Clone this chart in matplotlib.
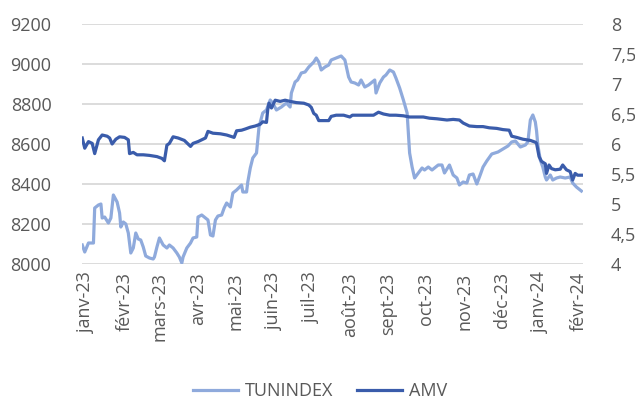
import matplotlib
matplotlib.use("Agg")
import matplotlib.pyplot as plt
import pandas as pd

# ---- data (days counted from 2023-01-01) ----
tun_days = [-3, -1, 2, 6, 7, 10, 12, 13, 15, 18, 20, 22, 25, 27, 28, 30, 32, 34, 36, 38,
            40, 42, 44, 46, 48, 51, 54, 55, 57, 59, 62, 65, 67, 70, 73, 75, 77, 78, 81, 84,
            86, 89, 90, 93, 96, 98, 100, 102, 104, 106, 109, 111, 113, 116, 118, 121, 125, 126, 129, 130,
            132, 134, 137, 138, 139, 142, 145, 148, 150, 153, 157, 161, 164, 165, 168, 170, 173, 176, 179, 183,
            185, 187, 189, 192, 195, 197, 201, 205, 208, 211, 213, 216, 219, 221, 224, 227, 229, 232, 233, 236,
            239, 241, 244, 247, 249, 252, 255, 258, 259, 260, 262, 264, 267, 270, 272, 275, 278, 280, 283, 286,
            288, 292, 295, 298, 300, 303, 306, 308, 311, 314, 317, 319, 322, 326, 331, 335, 339, 342, 345, 349,
            353, 355, 357, 359, 361, 362, 363, 365, 367, 369, 370, 373, 375, 378, 381, 385, 389, 391, 394, 397, 398]
tun_vals = [8095, 8060, 8105, 8105, 8280, 8295, 8300, 8230, 8235, 8205, 8230, 8345, 8310, 8255, 8185, 8210, 8200, 8155, 8055, 8080,
            8155, 8125, 8120, 8085, 8040, 8030, 8025, 8035, 8085, 8130, 8095, 8080, 8095, 8080, 8055, 8035, 8005, 8035, 8080, 8105,
            8130, 8135, 8235, 8245, 8230, 8220, 8145, 8140, 8220, 8240, 8245, 8280, 8305, 8285, 8355, 8370, 8395, 8360, 8360, 8410,
            8480, 8530, 8555, 8620, 8685, 8755, 8770, 8820, 8805, 8770, 8785, 8805, 8785, 8855, 8910, 8920, 8955, 8960, 8985, 9010,
            9030, 9010, 8970, 8985, 8995, 9020, 9030, 9040, 9020, 8935, 8910, 8905, 8895, 8920, 8885, 8895, 8905, 8920, 8855, 8905,
            8935, 8945, 8970, 8960, 8930, 8880, 8820, 8755, 8655, 8555, 8485, 8430, 8455, 8480, 8470, 8485, 8470, 8480, 8495, 8495,
            8455, 8495, 8445, 8430, 8395, 8410, 8405, 8445, 8450, 8400, 8450, 8485, 8515, 8550, 8560, 8575, 8590, 8610, 8615, 8585,
            8595, 8610, 8720, 8745, 8710, 8665, 8595, 8520, 8485, 8435, 8420, 8445, 8420, 8430, 8435, 8430, 8435, 8405, 8385, 8370, 8365]

amv_days = [-3, -1, 2, 5, 7, 10, 13, 17, 19, 21, 24, 27, 31, 34, 35, 38, 41, 46, 51, 57,
            61, 63, 65, 67, 70, 74, 79, 84, 86, 90, 93, 96, 98, 102, 108, 113, 119, 121, 125, 128,
            132, 136, 140, 142, 145, 146, 147, 149, 152, 156, 160, 164, 169, 175, 179, 181, 183, 185, 187, 191,
            195, 197, 201, 207, 212, 214, 220, 225, 231, 235, 239, 244, 249, 255, 260, 266, 271, 276, 282, 290,
            295, 300, 303, 308, 314, 319, 324, 330, 335, 340, 342, 346, 351, 357, 361, 362, 364, 366, 369, 370,
            372, 374, 377, 381, 383, 386, 389, 391, 393, 395, 398]
amv_vals = [6.10, 5.93, 6.04, 6.01, 5.84, 6.07, 6.15, 6.13, 6.10, 6.00, 6.08, 6.12, 6.11, 6.07, 5.84, 5.86, 5.82, 5.82, 5.81, 5.79,
            5.76, 5.72, 5.98, 6.01, 6.12, 6.10, 6.06, 5.96, 6.01, 6.04, 6.07, 6.10, 6.21, 6.18, 6.17, 6.15, 6.11, 6.22, 6.23, 6.25,
            6.28, 6.30, 6.33, 6.37, 6.36, 6.57, 6.68, 6.60, 6.73, 6.71, 6.73, 6.71, 6.69, 6.68, 6.65, 6.61, 6.51, 6.48, 6.39, 6.39,
            6.39, 6.46, 6.48, 6.48, 6.45, 6.48, 6.48, 6.48, 6.48, 6.53, 6.50, 6.48, 6.48, 6.47, 6.45, 6.45, 6.45, 6.43, 6.42, 6.40,
            6.41, 6.40, 6.35, 6.30, 6.29, 6.29, 6.27, 6.26, 6.24, 6.23, 6.13, 6.11, 6.08, 6.06, 6.03, 6.01, 5.79, 5.71, 5.67, 5.51,
            5.65, 5.59, 5.57, 5.58, 5.65, 5.57, 5.54, 5.40, 5.51, 5.48, 5.48]

month_labels = ["janv-23", "févr-23", "mars-23", "avr-23", "mai-23", "juin-23", "juil-23",
                "août-23", "sept-23", "oct-23", "nov-23", "déc-23", "janv-24", "févr-24"]
left_ticks = [8000, 8200, 8400, 8600, 8800, 9000, 9200]
right_ticks = [4, 4.5, 5, 5.5, 6, 6.5, 7, 7.5, 8]
series_names = ["TUNINDEX", "AMV"]

# ---- build ----
base = pd.Timestamp("2023-01-01")
tun_dates = base + pd.to_timedelta(tun_days, unit="D")
amv_dates = base + pd.to_timedelta(amv_days, unit="D")
month_ticks = pd.date_range("2023-01-01", periods=len(month_labels), freq="MS")

plt.rcParams["font.family"] = ["Open Sans", "DejaVu Sans"]
TXT = "#595959"
C_TUN = "#8FAADC"
C_AMV = "#3A5CAB"

fig = plt.figure(figsize=(6.35, 4.03), dpi=100)
ax = fig.add_axes([82/635, 1-264/403, (583-82)/635, 240/403])
ax2 = ax.twinx()

l1, = ax.plot(tun_dates, tun_vals, color=C_TUN, lw=2.3, solid_joinstyle="round")
l2, = ax2.plot(amv_dates, amv_vals, color=C_AMV, lw=2.3, solid_joinstyle="round")

ax.set_xlim(base + pd.Timedelta(days=-3.2), base + pd.Timedelta(days=399.3))
ax.set_ylim(8000, 9200)
ax2.set_ylim(4, 8)

ax.set_yticks(left_ticks)
ax.set_yticklabels([str(v) for v in left_ticks])
ax2.set_yticks(right_ticks)
ax2.set_yticklabels([("%g" % v).replace(".", ",") for v in right_ticks])

ax.set_xticks(month_ticks)
ax.set_xticklabels(month_labels, rotation=90)

ax.grid(axis="y", color="#D9D9D9", lw=1.3)
ax.set_axisbelow(True)
for a in (ax, ax2):
    for s in a.spines.values():
        s.set_visible(False)
    a.tick_params(length=0, colors=TXT, labelsize=13)
ax.tick_params(axis="y", pad=22)
ax.tick_params(axis="x", pad=6)
ax2.tick_params(axis="y", pad=20)

fig.legend([l1, l2], series_names, loc="center", bbox_to_anchor=(320/635, 1-391/403),
           ncol=2, frameon=False, fontsize=13, handlelength=2.5, handletextpad=0.4,
           columnspacing=1.3, labelcolor=TXT, borderpad=0.1)

fig.savefig("out.png", dpi=100)
